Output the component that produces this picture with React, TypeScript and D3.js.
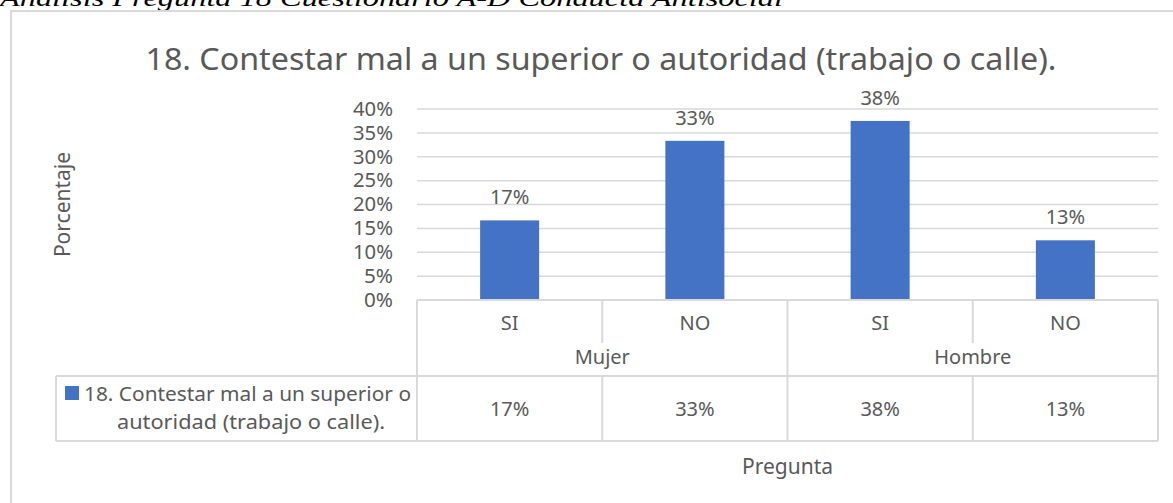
import React from "react";
import * as d3 from "d3";

const categories = ["SI", "NO", "SI", "NO"];
const groups = ["Mujer", "Hombre"];
const values = [16.67, 33.33, 37.5, 12.5];
const valueLabels = ["17%", "33%", "38%", "13%"];
const yTicks = [0, 5, 10, 15, 20, 25, 30, 35, 40];
const seriesName = "18. Contestar mal a un superior o autoridad (trabajo o calle).";
const legendLines = ["18. Contestar mal a un superior o", "autoridad (trabajo o calle)."];
const caption = "Análisis Pregunta 18 Cuestionario A-D Conducta Antisocial";

const W = 1173;
const H = 503;
const FONT = "'Noto Sans', 'Open Sans', sans-serif";
const TXT = "#595959";
const GRID = "#d9d9d9";
const BAR = "#4472c4";
const FS = 20;

export default function App() {
  const plotL = 417;
  const plotR = 1158;
  const plotT = 109;
  const plotB = 300;
  const x = d3.scaleBand<number>().domain(d3.range(categories.length)).range([plotL, plotR]).paddingInner(0).paddingOuter(0);
  const y = d3.scaleLinear().domain([0, 40]).range([plotB, plotT]);
  const bw = x.bandwidth();
  const barW = 59;

  const row1B = 343;
  const row2B = 376;
  const tableB = 441;
  const legendL = 56;

  return (
    <svg width={W} height={H} style={{ position: "absolute", left: 0, top: 0, background: "#fff" }}>
      <rect x={0} y={0} width={W} height={H} fill="#fff" />
      <text x={0} y={6} fontFamily="'Liberation Serif', 'DejaVu Serif', serif" fontStyle="italic" fontSize={24} fill="#000" textLength={783} lengthAdjust="spacingAndGlyphs">
        {caption}
      </text>
      <rect x={11} y={11} width={W + 10} height={H + 10} fill="none" stroke={GRID} strokeWidth={2} />

      <text x={601} y={70} textAnchor="middle" fontFamily={FONT} fontSize={31} fill={TXT} textLength={911} lengthAdjust="spacingAndGlyphs">
        {seriesName}
      </text>

      {yTicks.map((t) => (
        <g key={t}>
          {t > 0 && <line x1={plotL} x2={plotR} y1={y(t)} y2={y(t)} stroke={GRID} strokeWidth={1.5} />}
          <text x={393} y={y(t)} dy="0.36em" textAnchor="end" fontFamily={FONT} fontSize={19} fill={TXT} textLength={t < 10 ? 29 : 40} lengthAdjust="spacingAndGlyphs">
            {t}%
          </text>
        </g>
      ))}

      <text transform={`translate(70,${(plotT + plotB) / 2}) rotate(-90)`} textAnchor="middle" fontFamily={FONT} fontSize={21} fill={TXT}>
        Porcentaje
      </text>

      {values.map((v, i) => {
        const cx = (x(i) as number) + bw / 2;
        return (
          <g key={i}>
            <rect x={cx - barW / 2} y={y(v)} width={barW} height={plotB - y(v)} fill={BAR} />
            <text x={cx} y={y(v) - 16} textAnchor="middle" fontFamily={FONT} fontSize={FS} fill={TXT}>
              {valueLabels[i]}
            </text>
          </g>
        );
      })}

      {/* table */}
      <g stroke={GRID} strokeWidth={2} fill="none">
        <line x1={plotL} x2={plotR} y1={plotB} y2={plotB} />
        <line x1={legendL} x2={plotR} y1={row2B} y2={row2B} />
        <line x1={legendL} x2={plotR} y1={tableB} y2={tableB} />
        <line x1={legendL} x2={legendL} y1={row2B} y2={tableB} />
        <line x1={plotL} x2={plotL} y1={plotB} y2={tableB} />
        <line x1={plotR} x2={plotR} y1={plotB} y2={tableB} />
        <line x1={x(2) as number} x2={x(2) as number} y1={plotB} y2={tableB} />
        {[1, 3].map((i) => (
          <g key={i}>
            <line x1={x(i) as number} x2={x(i) as number} y1={plotB} y2={row1B} />
            <line x1={x(i) as number} x2={x(i) as number} y1={row2B} y2={tableB} />
          </g>
        ))}
      </g>

      {categories.map((c, i) => (
        <text key={"c" + i} x={(x(i) as number) + bw / 2} y={323} dy="0.36em" textAnchor="middle" fontFamily={FONT} fontSize={FS} fill={TXT}>
          {c}
        </text>
      ))}
      {groups.map((g, gi) => (
        <text key={g} x={(x(gi * 2) as number) + bw} y={357} dy="0.36em" textAnchor="middle" fontFamily={FONT} fontSize={FS} fill={TXT}>
          {g}
        </text>
      ))}
      {valueLabels.map((l, i) => (
        <text key={"v" + i} x={(x(i) as number) + bw / 2} y={409} dy="0.36em" textAnchor="middle" fontFamily={FONT} fontSize={FS} fill={TXT}>
          {l}
        </text>
      ))}

      <rect x={65} y={386} width={14} height={14} fill={BAR} />
      <text x={84} y={401} fontFamily={FONT} fontSize={FS} fill={TXT} textLength={327} lengthAdjust="spacingAndGlyphs">
        {legendLines[0]}
      </text>
      <text x={117} y={429} fontFamily={FONT} fontSize={FS} fill={TXT} textLength={268} lengthAdjust="spacingAndGlyphs">
        {legendLines[1]}
      </text>

      <text x={(plotL + plotR) / 2} y={466} dy="0.36em" textAnchor="middle" fontFamily={FONT} fontSize={21} fill={TXT}>
        Pregunta
      </text>
    </svg>
  );
}
